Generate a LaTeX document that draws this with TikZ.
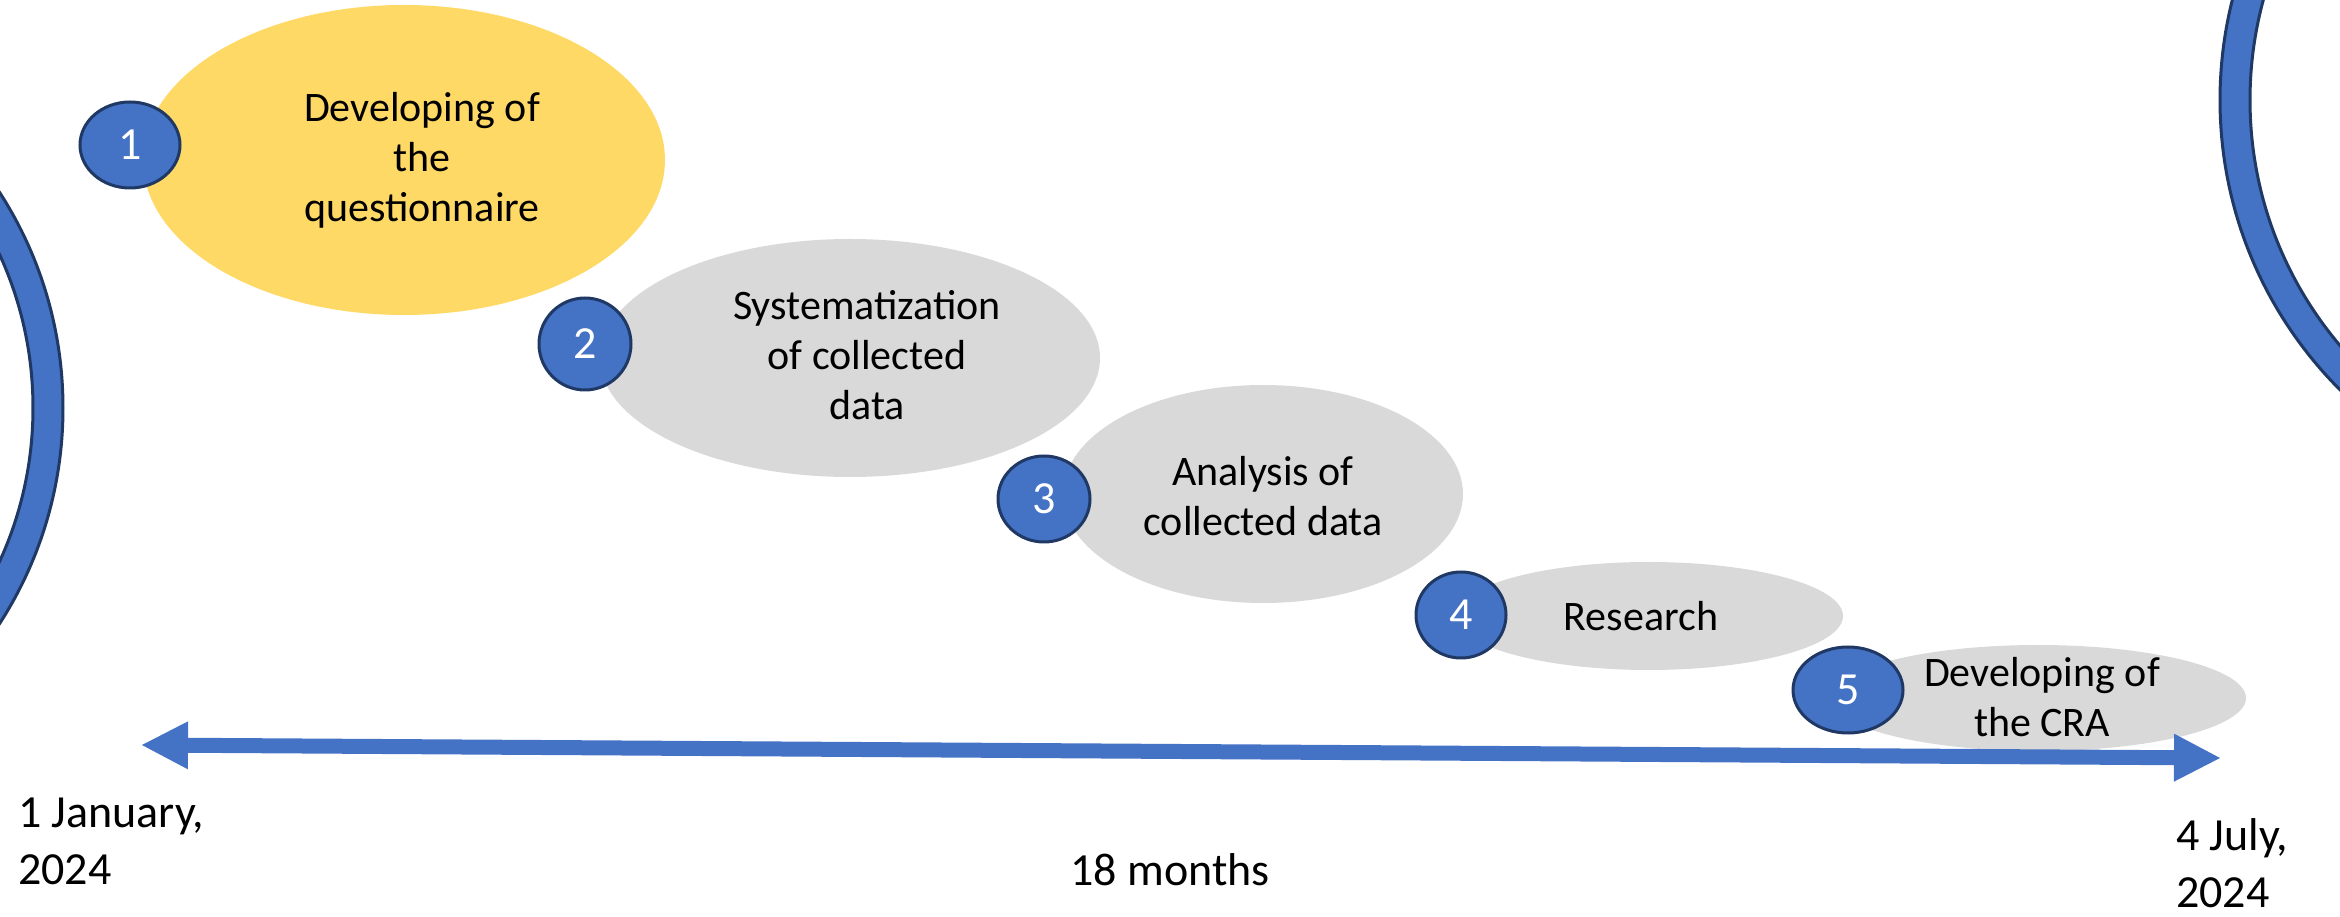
\documentclass[tikz,border=0pt]{standalone}
\usepackage{fontspec}
\setmainfont{Carlito}
\usetikzlibrary{shapes.geometric,arrows.meta}
\definecolor{pblue}{HTML}{4472C4}
\definecolor{pline}{HTML}{1F3864}
\definecolor{pyellow}{HTML}{FFD966}
\definecolor{pgray}{HTML}{D9D9D9}
\begin{document}
\begin{tikzpicture}[x=1pt,y=1pt,
  phase/.style={ellipse, draw=none, inner sep=0pt},
  numdot/.style={ellipse, fill=pblue, draw=pline, line width=3pt, inner sep=0pt, text=white, font=\fontsize{46}{50}\selectfont},
  lbl/.style={align=center, inner sep=0pt, font=\fontsize{42}{50}\selectfont},
  datelbl/.style={align=left, inner sep=0pt, font=\fontsize{46}{57}\selectfont},
  ring/.style={fill=pblue, draw=pline, line width=3pt, even odd rule},
  timeline/.style={draw=pblue, line width=15pt,
    {Triangle[length=46pt,width=48pt,line width=0pt]}-{Triangle[length=46pt,width=48pt,line width=0pt]}}
]
\useasboundingbox (0,0) rectangle (2340,916);
\begin{scope}
  \clip (0,0) rectangle (2340,916);
  \path[ring] (-335,508) circle[radius=398] (-335,508) circle[radius=368];
  \path[ring] (2630,816) circle[radius=410] (2630,816) circle[radius=380];
\end{scope}
% phase ellipses
\node[phase, fill=pyellow, minimum width=522pt, minimum height=310pt] (e1) at (404,756) {};
\node[phase, fill=pgray, minimum width=500pt, minimum height=238pt] (e2) at (850,558) {};
\node[phase, fill=pgray, minimum width=400pt, minimum height=218pt] (e3) at (1263,422) {};
\node[phase, fill=pgray, minimum width=388pt, minimum height=108pt] (e4) at (1649,300) {};
\node[phase, fill=pgray, minimum width=416pt, minimum height=106pt] (e5) at (2038,218) {};
% labels
\node[lbl] (t1) at (422,756) {Developing of\\the\\questionnaire};
\node[lbl] (t2) at (867,561) {Systematization\\of collected\\data};
\node[lbl] (t3) at (1263,420) {Analysis of\\collected data};
\node[lbl] (t4) at (1641,300) {Research};
\node[lbl] (t5) at (2042,219) {Developing of\\the CRA};
% timeline
\coordinate (a0) at (142,171);
\coordinate (a1) at (2220,158);
\draw[timeline] (a0) -- (a1);
% number dots
\node[numdot, minimum width=100pt, minimum height=86pt] (c1) at (130,771) {1};
\node[numdot, minimum width=92pt, minimum height=92pt] (c2) at (585,572) {2};
\node[numdot, minimum width=92pt, minimum height=86pt] (c3) at (1044,417) {3};
\node[numdot, minimum width=90pt, minimum height=86pt] (c4) at (1461,301) {4};
\node[numdot, minimum width=110pt, minimum height=86pt] (c5) at (1848,226) {5};
% dates
\node[datelbl, anchor=west] (d0) at (18,75) {1 January,\\2024};
\node[datelbl, anchor=west] (d1) at (2176,53) {4 July,\\2024};
\node[inner sep=0pt, anchor=base, font=\fontsize{46}{57}\selectfont] (dur) at (1170,31) {18 months};
\end{tikzpicture}
\end{document}
